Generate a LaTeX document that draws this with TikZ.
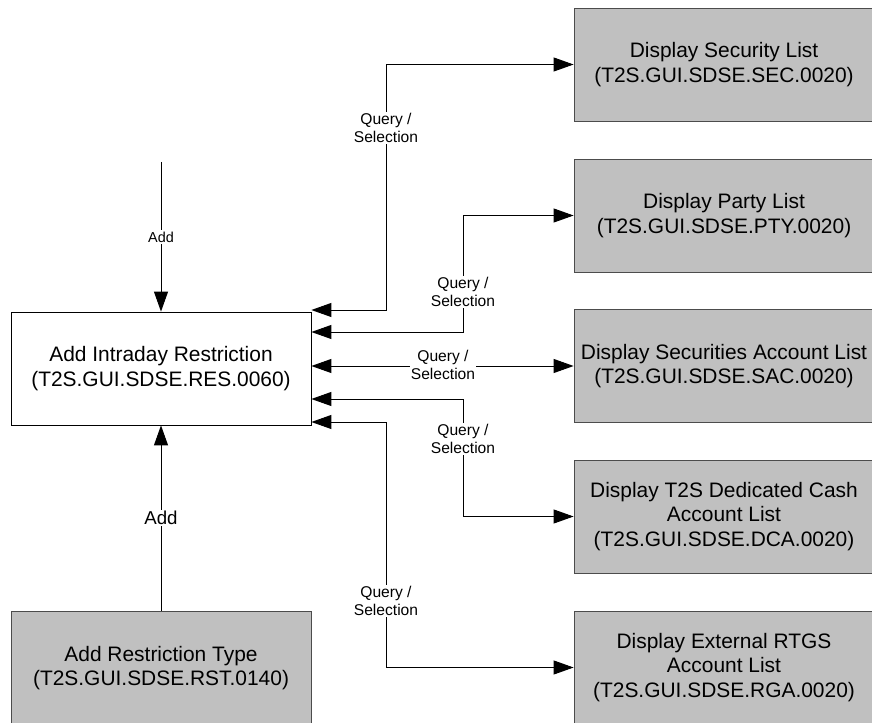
\documentclass[tikz,border=0pt]{standalone}
\usepackage{fontspec}
\setmainfont{Liberation Sans}
\usetikzlibrary{arrows.meta}
\definecolor{boxgray}{RGB}{192,192,192}

\begin{document}
\begin{tikzpicture}[x=0.75pt,y=0.75pt,
    screen/.style={draw=black,fill=white,line width=0.6pt,minimum width=225pt,
      minimum height=84.75pt,inner sep=0pt,align=center,
      font=\fontsize{15.7}{18.3}\selectfont},
    listbox/.style={screen,fill=boxgray,draw=black!70},
    link/.style={line width=0.7pt,-{Triangle[length=15pt,width=10.5pt]}},
    both/.style={line width=0.7pt,{Triangle[length=15pt,width=10.5pt]}-{Triangle[length=15pt,width=10.5pt]}},
    lbl/.style={fill=white,inner sep=1pt,align=center,
      font=\fontsize{11.7}{13.5}\selectfont}]
  \useasboundingbox (0,0) rectangle (872,722);

  % screens
  \node[screen] (main) at (161,353.5) {Add Intraday Restriction\\(T2S.GUI.SDSE.RES.0060)};
  \node[listbox] (rst) at (161,54) {Add Restriction Type\\(T2S.GUI.SDSE.RST.0140)};
  \node[listbox] (sec) at (724,657.5) {Display Security List\\(T2S.GUI.SDSE.SEC.0020)};
  \node[listbox] (pty) at (724,506.5) {Display Party List\\(T2S.GUI.SDSE.PTY.0020)};
  \node[listbox] (sac) at (724,356) {Display Securities Account List\\(T2S.GUI.SDSE.SAC.0020)};
  \node[listbox] (dca) at (724,205.5) {Display T2S Dedicated Cash\\Account List\\(T2S.GUI.SDSE.DCA.0020)};
  \node[listbox] (rga) at (724,54.5) {Display External RTGS\\Account List\\(T2S.GUI.SDSE.RGA.0020)};

  % add links
  \coordinate (addsrc) at (161,560);
  \draw[link] (addsrc) -- (main.north);
  \node[lbl,font=\fontsize{10.8}{12}\selectfont] (add1) at (161,485) {Add};
  \draw[link] (rst.north) -- (main.south);
  \node[lbl,font=\fontsize{14}{16}\selectfont] (add2) at (161,204) {Add};

  % query / selection links
  \draw[both] (sec.west) -| (386,412) -- (main.east |- 386,412);
  \draw[both] (pty.west) -| (463,390) -- (main.east |- 463,390);
  \draw[both] (sac.west) -- (main.east |- sac.west);
  \draw[both] (dca.west) -| (463,323) -- (main.east |- 463,323);
  \draw[both] (rga.west) -| (386,300) -- (main.east |- 386,300);
  \node[lbl] (q1) at (386,594) {Query /\\Selection};
  \node[lbl] (q2) at (463,430) {Query /\\Selection};
  \node[lbl] (q3) at (443,357) {Query /\\Selection};
  \node[lbl] (q4) at (463,283) {Query /\\Selection};
  \node[lbl] (q5) at (386,121) {Query /\\Selection};
\end{tikzpicture}
\end{document}
